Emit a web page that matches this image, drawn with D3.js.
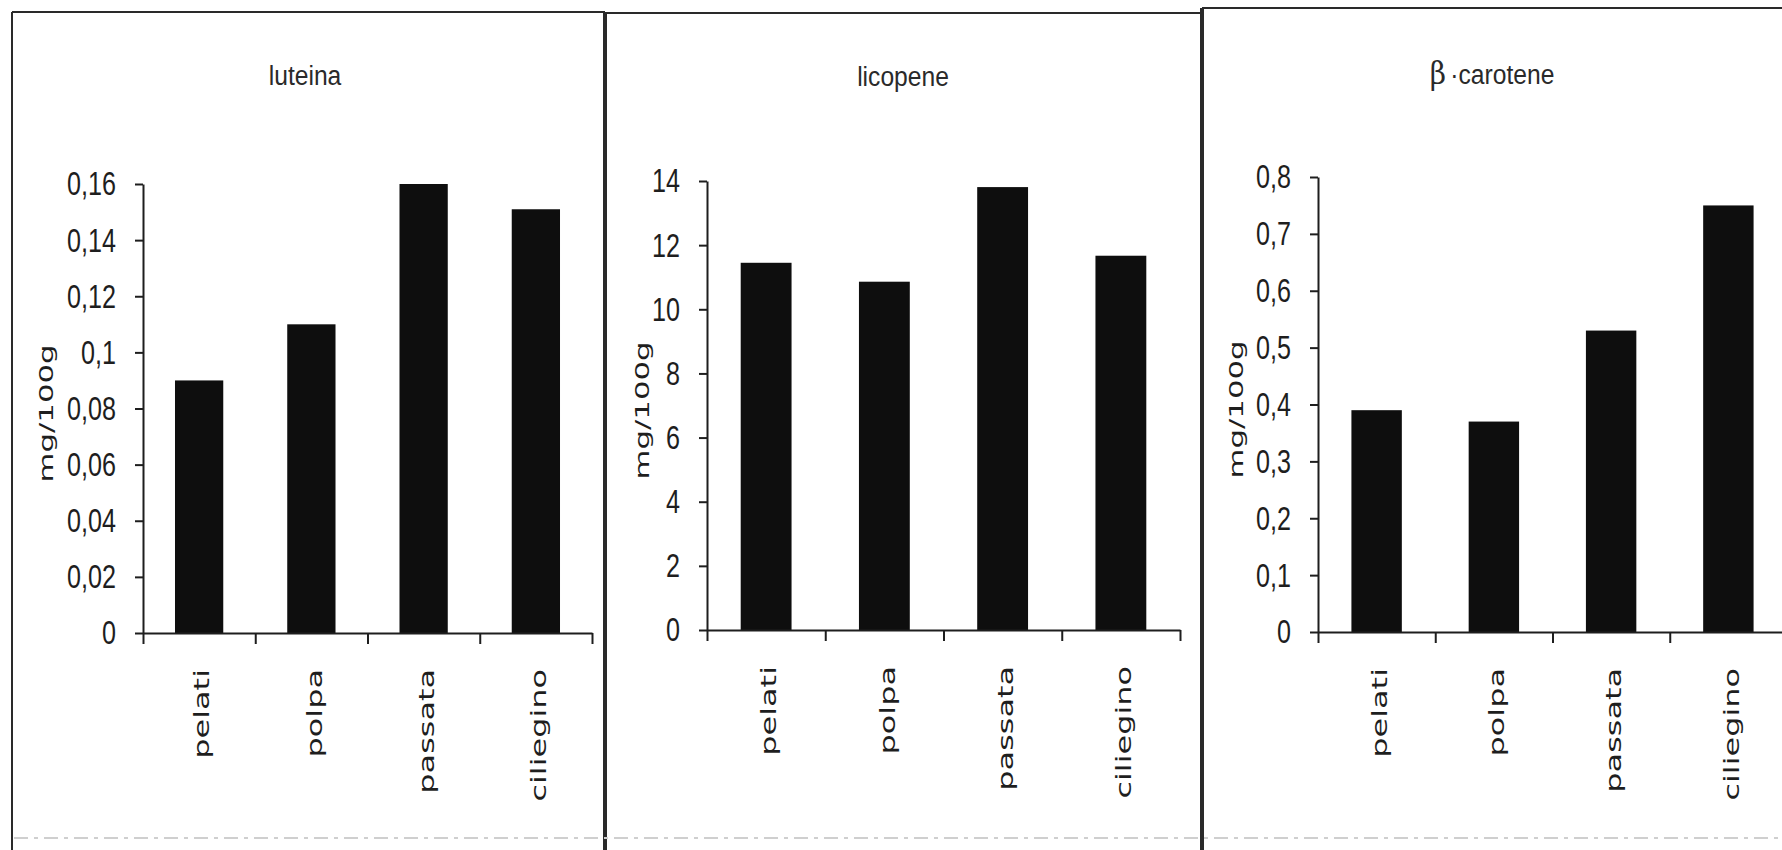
<!DOCTYPE html>
<html>
<head>
<meta charset="utf-8">
<script src="https://cdn.jsdelivr.net/npm/d3@7"></script>
<style>
  body { margin: 0; background: #fff; }
  svg { display: block; }
</style>
</head>
<body>
<div id="chart"></div>
<script>
// --- Dati ---
const categories = ["pelati", "polpa", "passata", "ciliegino"];

const luteina      = [0.09, 0.11, 0.16, 0.151];
const licopene     = [11.45, 10.86, 13.81, 11.67];
const betaCarotene = [0.39, 0.37, 0.53, 0.75];

const luteinaTicks  = [0, 0.02, 0.04, 0.06, 0.08, 0.1, 0.12, 0.14, 0.16];
const licopeneTicks = [0, 2, 4, 6, 8, 10, 12, 14];
const betaTicks     = [0, 0.1, 0.2, 0.3, 0.4, 0.5, 0.6, 0.7, 0.8];

const titles = ["luteina", "licopene", "β·carotene"];
const yTitle = "mg/100g";

// --- Layout dei tre riquadri ---
const layout = [
  { x0: 143,  x1: 592,  yTop: 184, yBot: 633, titleX: 305,  titleY: 85, yLabX: 46 },
  { x0: 707,  x1: 1180, yTop: 181, yBot: 630, titleX: 903,  titleY: 86, yLabX: 642 },
  { x0: 1318, x1: 1787, yTop: 177, yBot: 632, titleX: 1492, titleY: 84, yLabX: 1236 }
];

const series = [luteina, licopene, betaCarotene];
const tickSets = [luteinaTicks, licopeneTicks, betaTicks];

const W = 1782, H = 850;
const ink = "#1e1e1e";
const tickSize = 8, tickPad = 19;

const svg = d3.select("#chart")
  .append("svg")
    .attr("width", W)
    .attr("height", H);

// virgola decimale all'italiana
const itLocale = d3.formatLocale({ decimal: ",", thousands: ".", grouping: [3], currency: ["", "€"] });
const fmt = itLocale.format("~g");

// --- Cornici ---
const frame = svg.append("g").attr("stroke", "#2a2a2a").attr("fill", "none");
frame.append("line").attr("x1", 12).attr("y1", 12).attr("x2", 605).attr("y2", 12).attr("stroke-width", 2);
frame.append("line").attr("x1", 605).attr("y1", 13).attr("x2", 1202).attr("y2", 13).attr("stroke-width", 2);
frame.append("line").attr("x1", 1202).attr("y1", 8).attr("x2", W).attr("y2", 8).attr("stroke-width", 2);
frame.append("line").attr("x1", 12).attr("y1", 12).attr("x2", 12).attr("y2", H).attr("stroke-width", 2);
frame.append("line").attr("x1", 605).attr("y1", 12).attr("x2", 605).attr("y2", H).attr("stroke-width", 4);
frame.append("line").attr("x1", 1202).attr("y1", 8).attr("x2", 1202).attr("y2", H).attr("stroke-width", 4);
frame.append("line").attr("x1", 14).attr("y1", 838).attr("x2", W).attr("y2", 838)
  .attr("stroke", "#cfcfcf").attr("stroke-width", 2).attr("stroke-dasharray", "14,6,4,6");

// --- Pannelli ---
layout.forEach((p, i) => {
  const values = series[i];
  const ticks = tickSets[i];
  const g = svg.append("g");

  const x = d3.scaleBand()
    .domain(categories)
    .range([p.x0, p.x1])
    .paddingInner(0.57)
    .paddingOuter(0.285);

  // scala per le tacche sui confini delle categorie
  const xEdge = d3.scaleLinear()
    .domain([0, categories.length])
    .range([p.x0, p.x1]);

  const y = d3.scaleLinear()
    .domain([0, d3.max(ticks)])
    .range([p.yBot, p.yTop]);

  // barre
  g.selectAll(".bar")
    .data(values)
    .enter()
    .append("rect")
      .attr("class", "bar")
      .attr("x", (d, j) => x(categories[j]))
      .attr("y", d => y(d))
      .attr("width", x.bandwidth())
      .attr("height", d => y(0) - y(d))
      .attr("fill", "#0e0e0e");

  // asse Y
  const yAxis = g.append("g")
    .attr("transform", `translate(${p.x0},0)`)
    .call(d3.axisLeft(y)
      .tickValues(ticks)
      .tickFormat(fmt)
      .tickSize(tickSize)
      .tickSizeOuter(0)
      .tickPadding(tickPad));

  // asse X
  const xAxis = g.append("g")
    .attr("transform", `translate(0,${p.yBot})`)
    .call(d3.axisBottom(xEdge)
      .tickValues(d3.range(categories.length + 1))
      .tickFormat("")
      .tickSize(11)
      .tickSizeOuter(0));

  [yAxis, xAxis].forEach(a => {
    a.selectAll("path, line").attr("stroke", ink).attr("stroke-width", 2);
  });

  // etichette dei valori: carattere alto e stretto come nell'originale
  yAxis.selectAll(".tick text")
    .attr("x", 0)
    .attr("transform", `translate(${-(tickSize + tickPad)},0) scale(0.74,1)`)
    .attr("fill", ink)
    .style("font-family", "'Liberation Sans', Arial, sans-serif")
    .style("font-size", "34px");

  // etichette categorie (ruotate)
  g.selectAll(".cat")
    .data(categories)
    .enter()
    .append("g")
      .attr("class", "cat")
      .attr("transform", d => `translate(${x(d) + x.bandwidth() / 2 + 3},${p.yBot + 36}) rotate(-90) scale(1.52,1)`)
    .append("text")
      .attr("text-anchor", "end")
      .attr("dy", "0.35em")
      .attr("fill", ink)
      .style("font-family", "'DejaVu Sans', sans-serif")
      .style("font-size", "21px")
      .text(d => d);

  // titolo asse Y
  g.append("g")
    .attr("transform", `translate(${p.yLabX},${(p.yTop + p.yBot) / 2 + 5}) rotate(-90) scale(1.62,1)`)
    .append("text")
      .attr("text-anchor", "middle")
      .attr("dy", "0.35em")
      .attr("fill", ink)
      .style("font-family", "'DejaVu Sans', sans-serif")
      .style("font-size", "19px")
      .text(yTitle);

  // titolo pannello
  const t = g.append("g")
    .attr("transform", `translate(${p.titleX},${p.titleY}) scale(0.88,1)`)
    .append("text")
      .attr("text-anchor", "middle")
      .attr("fill", "#2a2a2a")
      .style("font-family", "'Liberation Sans', Arial, sans-serif")
      .style("font-size", "28px");

  if (titles[i].startsWith("β")) {
    t.append("tspan")
      .style("font-family", "'DejaVu Serif', 'Liberation Serif', serif")
      .style("font-size", "32px")
      .text("β");
    t.append("tspan")
      .attr("dx", 5)
      .text(titles[i].slice(1));
  } else {
    t.text(titles[i]);
  }
});
</script>
</body>
</html>
